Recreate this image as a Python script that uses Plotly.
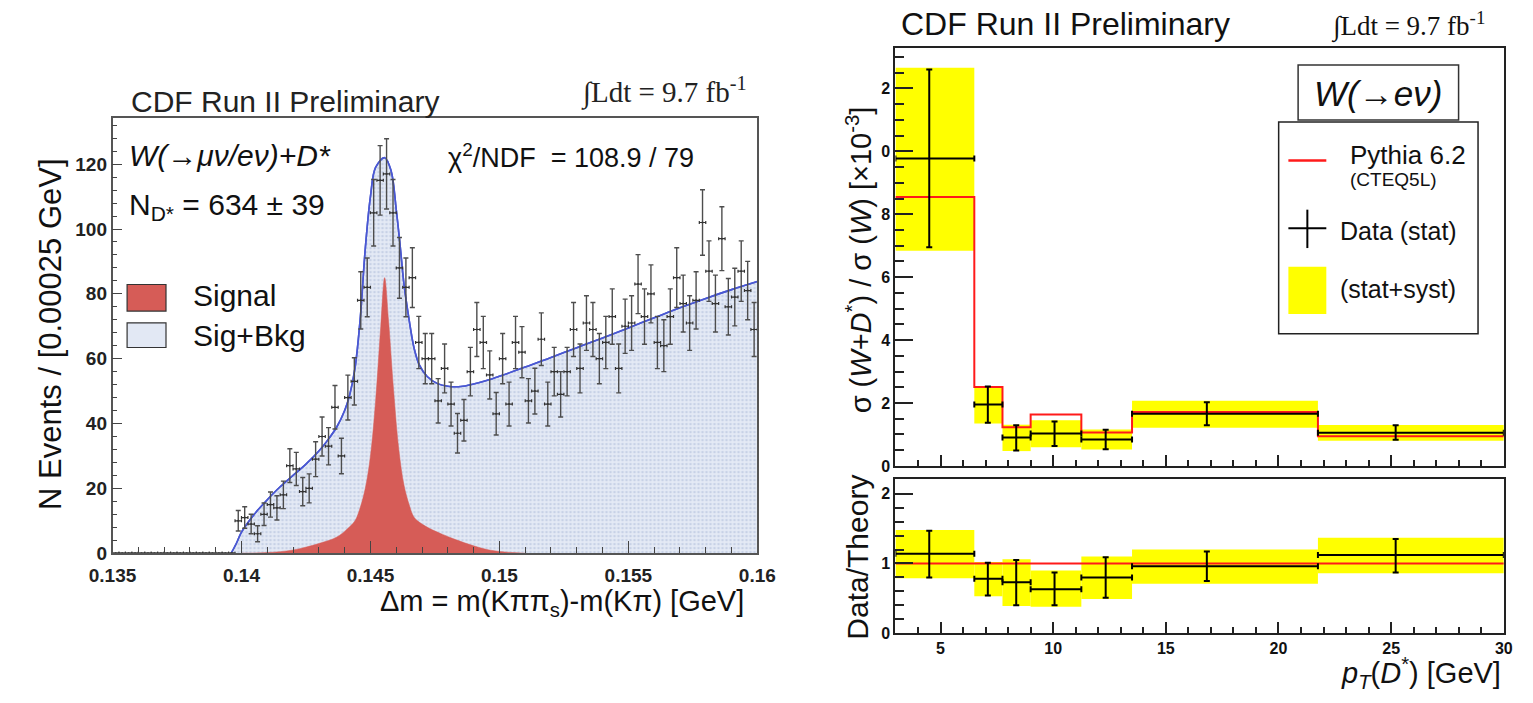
import numpy as np
import plotly.graph_objects as go

W, H = 1533, 703
def px(x): return x / W
def py(y): return 1 - y / H

SANS = "Liberation Sans, Arial, sans-serif"
SERIF = "Liberation Serif, Times New Roman, serif"

# ---------------- Left panel: D* mass difference histogram ----------------
bin_lo = 0.135
bin_w = 0.00025
counts = [0, 0, 0, 0, 0, 0, 0, 0, 0, 0, 0, 0, 0, 0, 0, 0, 0, 0, 0, 10,
          11, 9, 6, 12, 15, 14, 18, 27, 26, 19,
          20, 29, 36, 33, 45, 30, 48, 53, 78, 82,
          105, 115, 117, 105, 88, 82, 85, 65, 60, 60,
          47, 57, 46, 37, 41, 56, 69, 65, 55, 43,
          60, 46, 65, 62, 47, 50, 66, 46, 56, 49,
          56, 69, 57, 71, 69, 60, 65, 73, 57, 70,
          71, 83, 73, 80, 65, 64, 73, 85, 77, 71,
          78, 102, 87, 77, 97, 76, 79, 87, 81, 69]

# Fit curve (signal + background)
total_x = [0.1396, 0.1398, 0.1400, 0.1403, 0.1406, 0.1410, 0.1415, 0.1420, 0.1425, 0.1430,
           0.1434, 0.1437, 0.1440, 0.1442, 0.1444, 0.1446, 0.1448, 0.1450, 0.1452, 0.14555,
           0.1458, 0.1460, 0.14615, 0.1463, 0.1465, 0.1467, 0.1469, 0.1472, 0.1476, 0.1480,
           0.1485, 0.1490, 0.1495, 0.1500, 0.1510, 0.1520, 0.1530, 0.1540, 0.1550, 0.1560,
           0.1570, 0.1580, 0.1590, 0.1600]
total_y = [0, 3, 6.5, 10, 13, 16.5, 20.5, 24, 27.5, 31.5,
           35.5, 39, 44, 49, 57, 72, 94, 110, 119, 122,
           118, 106, 95, 83, 72, 63, 58, 54.5, 52.3, 51.5,
           51.4, 52.2, 53.3, 54.6, 57.4, 60.4, 63.4, 66.4, 69.5, 72.6,
           75.7, 78.6, 81.3, 83.8]

# Signal component
signal_x = [0.1400, 0.1410, 0.1420, 0.1430, 0.1437, 0.1441, 0.1444, 0.1446, 0.1448, 0.1450,
            0.1452, 0.1454, 0.14555, 0.1457, 0.1459, 0.1461, 0.1463, 0.1465, 0.1467, 0.1470,
            0.1474, 0.1478, 0.1483, 0.1490, 0.1496, 0.1505, 0.1510]
signal_y = [0, 0.2, 1, 3, 5, 7.5, 10, 14, 20, 30,
            47, 70, 85, 72, 50, 32, 21, 15, 11, 9,
            7.2, 5.8, 4.2, 2.3, 1.0, 0.2, 0]

left_xticks = [0.135, 0.14, 0.145, 0.15, 0.155, 0.16]
left_xticktext = ["0.135", "0.14", "0.145", "0.15", "0.155", "0.16"]
left_yticks = [0, 20, 40, 60, 80, 100, 120]

# ---------------- Right panel: cross-section ratio vs pT ----------------
pt_edges = [3, 6.5, 7.75, 9, 11.25, 13.5, 21.75, 30]
pt_centers = [4.5, 7.1, 8.36, 10.06, 12.33, 16.82, 25.2]
xs_data = [9.77, 1.95, 0.90, 1.03, 0.84, 1.66, 1.05]
xs_stat_hi = [12.6, 2.52, 1.29, 1.41, 1.15, 2.02, 1.29]
xs_stat_lo = [6.95, 1.37, 0.49, 0.63, 0.53, 1.29, 0.83]
xs_syst_hi = [12.66, 2.50, 1.31, 1.45, 1.16, 2.07, 1.30]
xs_syst_lo = [6.84, 1.35, 0.47, 0.59, 0.52, 1.21, 0.80]
xs_theory = [8.55, 2.51, 1.23, 1.63, 1.06, 1.71, 0.94]

ratio_data = [1.14, 0.78, 0.73, 0.63, 0.80, 0.96, 1.12]
ratio_stat_hi = [1.47, 1.01, 1.05, 0.87, 1.09, 1.17, 1.35]
ratio_stat_lo = [0.80, 0.54, 0.40, 0.40, 0.51, 0.75, 0.87]
ratio_syst_hi = [1.48, 1.02, 1.06, 0.90, 1.10, 1.20, 1.37]
ratio_syst_lo = [0.79, 0.53, 0.39, 0.38, 0.49, 0.71, 0.86]
ratio_theory = [1, 1, 1, 1, 1, 1, 1]

upper_yticks = [0, 2, 4, 6, 8, 10, 12]
upper_yticktext = ["0", "2", "4", "6", "8", "0", "2"]

# ---------------- figure ----------------
fig = go.Figure()

centers = [bin_lo + bin_w * (i + 0.5) for i in range(len(counts))]
errs = np.sqrt(np.array(counts, dtype=float))

fig.add_trace(go.Scatter(
    x=total_x, y=total_y, mode="lines", line_shape="spline",
    fill="tozeroy", fillcolor="#e2e8f4",
    fillpattern=dict(shape=".", fgcolor="#a9b8d8", bgcolor="#e4eaf5", size=4, solidity=0.35),
    line=dict(color="#4a58d2", width=1.6), xaxis="x", yaxis="y", hoverinfo="skip"))
fig.add_trace(go.Scatter(
    x=signal_x, y=signal_y, mode="lines", line_shape="spline",
    fill="tozeroy", fillcolor="#d65c57", line=dict(color="#d65c57", width=0.5),
    xaxis="x", yaxis="y", hoverinfo="skip"))
fig.add_trace(go.Scatter(
    x=total_x, y=total_y, mode="lines", line_shape="spline",
    line=dict(color="#4a58d2", width=1.6), xaxis="x", yaxis="y", hoverinfo="skip"))
fig.add_trace(go.Scatter(
    x=centers, y=counts, mode="markers",
    marker=dict(size=2, color="#333"),
    error_y=dict(type="data", array=errs, color="#4d4d4d", thickness=1.4, width=2.5),
    error_x=dict(type="constant", value=bin_w / 2, color="#333", thickness=1.2, width=1.5),
    xaxis="x", yaxis="y"))

# upper right
edge_lo = pt_edges[:-1]
edge_hi = pt_edges[1:]
mids = [(a + b) / 2 for a, b in zip(edge_lo, edge_hi)]
widths = [b - a for a, b in zip(edge_lo, edge_hi)]

fig.add_trace(go.Bar(
    x=mids, y=[h - l for h, l in zip(xs_syst_hi, xs_syst_lo)], base=xs_syst_lo, width=widths,
    marker=dict(color="#ffff00", line=dict(width=0)), xaxis="x2", yaxis="y2", hoverinfo="skip"))
fig.add_trace(go.Scatter(
    x=pt_edges, y=xs_theory + [xs_theory[-1]], mode="lines", line_shape="hv",
    line=dict(color="#ff1a1a", width=2), xaxis="x2", yaxis="y2"))
fig.add_trace(go.Scatter(
    x=pt_centers, y=xs_data, mode="markers", marker=dict(size=1, color="black"),
    error_y=dict(type="data", symmetric=False,
                 array=[h - d for h, d in zip(xs_stat_hi, xs_data)],
                 arrayminus=[d - l for d, l in zip(xs_data, xs_stat_lo)],
                 color="black", thickness=2, width=3),
    error_x=dict(type="data", symmetric=False,
                 array=[h - c for h, c in zip(edge_hi, pt_centers)],
                 arrayminus=[c - l for c, l in zip(pt_centers, edge_lo)],
                 color="black", thickness=2, width=3),
    xaxis="x2", yaxis="y2"))

# lower right
fig.add_trace(go.Bar(
    x=mids, y=[h - l for h, l in zip(ratio_syst_hi, ratio_syst_lo)], base=ratio_syst_lo, width=widths,
    marker=dict(color="#ffff00", line=dict(width=0)), xaxis="x3", yaxis="y3", hoverinfo="skip"))
fig.add_trace(go.Scatter(
    x=pt_edges, y=ratio_theory + [ratio_theory[-1]], mode="lines", line_shape="hv",
    line=dict(color="#ff1a1a", width=2), xaxis="x3", yaxis="y3"))
fig.add_trace(go.Scatter(
    x=pt_centers, y=ratio_data, mode="markers", marker=dict(size=1, color="black"),
    error_y=dict(type="data", symmetric=False,
                 array=[h - d for h, d in zip(ratio_stat_hi, ratio_data)],
                 arrayminus=[d - l for d, l in zip(ratio_data, ratio_stat_lo)],
                 color="black", thickness=2, width=3),
    error_x=dict(type="data", symmetric=False,
                 array=[h - c for h, c in zip(edge_hi, pt_centers)],
                 arrayminus=[c - l for c, l in zip(pt_centers, edge_lo)],
                 color="black", thickness=2, width=3),
    xaxis="x3", yaxis="y3"))

tickfont_l = dict(family=SANS, size=19, color="#222", weight="bold")
tickfont_r = dict(family=SANS, size=16, color="#111", weight="bold")

common = dict(showline=True, mirror=True, showgrid=False, zeroline=False, ticks="inside")

fig.update_layout(
    width=W, height=H, margin=dict(l=0, r=0, t=0, b=0),
    paper_bgcolor="white", plot_bgcolor="white", showlegend=False, barmode="overlay",
    xaxis=dict(domain=[px(91), px(754)], range=[0.135, 0.16], anchor="y",
               linecolor="#555", linewidth=1.5, tickcolor="#444", tickwidth=1.2, ticklen=12,
               tickvals=left_xticks, ticktext=left_xticktext, tickfont=tickfont_l,
               ticklabelstandoff=4,
               minor=dict(tick0=0.135, dtick=0.001, ticks="inside", ticklen=6, tickcolor="#444"),
               **common),
    yaxis=dict(domain=[py(562), py(120)], range=[0, 134.2], anchor="x",
               linecolor="#555", linewidth=1.5, tickcolor="#444", tickwidth=1.2, ticklen=10,
               tickvals=left_yticks, tickfont=tickfont_l,
               minor=dict(tick0=0, dtick=4, ticks="inside", ticklen=5, tickcolor="#444"),
               **common),
    xaxis2=dict(domain=[px(896), px(1521.5)], range=[3, 30], anchor="y2",
                linecolor="#222", linewidth=2, tickcolor="#222", tickwidth=1.5, ticklen=11,
                tick0=0, dtick=5, showticklabels=False,
                minor=dict(tick0=0, dtick=1, ticks="inside", ticklen=6, tickcolor="#222"),
                **common),
    yaxis2=dict(domain=[py(473.3), py(48.3)], range=[0, 13.3], anchor="x2",
                linecolor="#222", linewidth=2, tickcolor="#222", tickwidth=1.5, ticklen=18,
                tickvals=upper_yticks, ticktext=upper_yticktext, tickfont=tickfont_r,
                minor=dict(tick0=0, dtick=0.5, ticks="inside", ticklen=9, tickcolor="#222"),
                **common),
    xaxis3=dict(domain=[px(896), px(1521.5)], range=[3, 30], anchor="y3",
                linecolor="#222", linewidth=2, tickcolor="#222", tickwidth=1.5, ticklen=11,
                tick0=0, dtick=5, tickfont=tickfont_r,
                minor=dict(tick0=0, dtick=1, ticks="inside", ticklen=6, tickcolor="#222"),
                **common),
    yaxis3=dict(domain=[py(643.3), py(486.7)], range=[0, 2.21], anchor="x3",
                linecolor="#222", linewidth=2, tickcolor="#222", tickwidth=1.5, ticklen=18,
                tickvals=[0, 1, 2], tickfont=tickfont_r,
                minor=dict(tick0=0, dtick=0.2, ticks="inside", ticklen=9, tickcolor="#222"),
                **common),
)

def ann(text, x, y, size, xanchor="left", family=SANS, angle=0, color="#111"):
    fig.add_annotation(text=text, x=px(x), y=py(y), xref="paper", yref="paper",
                       xanchor=xanchor, yanchor="middle", showarrow=False, textangle=angle,
                       font=dict(family=family, size=size, color=color))

# left texts
ann("CDF Run II Preliminary", 108, 103, 30, color="#222")
ann("∫Ldt = 9.7 fb<sup>-1</sup>", 745, 92, 29, xanchor="right", family=SERIF, color="#222")
ann("<i>W(→μν/eν)+D*</i>", 106, 158, 30)
ann("N<sub>D*</sub> = 634 ± 39", 106, 210, 30)
ann("χ<sup>2</sup>/NDF\u00a0\u00a0= 108.9 / 79", 434, 158, 27)
ann("Signal", 172, 300, 30)
ann("Sig+Bkg", 172, 341, 30)
ann("N Events / [0.00025 GeV]", 27, 339, 31, xanchor="center", angle=-90)
ann("Δm = m(Kππ<sub>s</sub>)-m(Kπ) [GeV]", 742, 613, 29, xanchor="right")

# right texts
ann("CDF Run II Preliminary", 900, 24, 32)
ann("∫Ldt = 9.7 fb<sup>-1</sup>", 1504, 25, 27, xanchor="right", family=SERIF)
ann("<i>W(→eν)</i>", 1392, 95, 35, xanchor="center")
ann("Pythia 6.2", 1361, 157, 26)
ann("(CTEQ5L)", 1361, 182, 19)
ann("Data (stat)", 1351, 235, 25)
ann("(stat+syst)", 1351, 294, 25)
ann("σ (<i>W</i>+<i>D</i><sup>*</sup>) / σ (<i>W</i>) [×10<sup>-3</sup>]", 858, 264, 29,
    xanchor="center", angle=-90)
ann("Data/Theory", 857, 566, 30, xanchor="center", angle=-90)
ann("<i>p</i><sub><i>T</i></sub>(<i>D</i><sup>*</sup>) [GeV]", 1521, 684, 29, xanchor="right")

def rect(x0, y0, x1, y1, fill, line="#333", lw=1.2):
    fig.add_shape(type="rect", xref="paper", yref="paper",
                  x0=px(x0), x1=px(x1), y0=py(y1), y1=py(y0),
                  fillcolor=fill, line=dict(color=line, width=lw), layer="above")

def seg(x0, y0, x1, y1, color, lw):
    fig.add_shape(type="line", xref="paper", yref="paper",
                  x0=px(x0), x1=px(x1), y0=py(y0), y1=py(y1),
                  line=dict(color=color, width=lw), layer="above")

# left legend boxes
rect(106, 289, 146, 316, "#d65c57")
rect(106, 328, 146, 353, "#e2e8f4")
# right boxes
rect(1310, 66, 1475, 122, "white", line="#333", lw=1.5)
rect(1290, 124, 1495, 339, "white", line="#222", lw=1.5)
seg(1300, 163, 1339, 163, "#ff1a1a", 2.5)
seg(1300, 232, 1339, 232, "black", 2)
seg(1319.5, 213, 1319.5, 252, "black", 2)
rect(1300, 271, 1339, 319, "#ffff00", line="#ffff00", lw=0)

fig.write_html("out.html")
